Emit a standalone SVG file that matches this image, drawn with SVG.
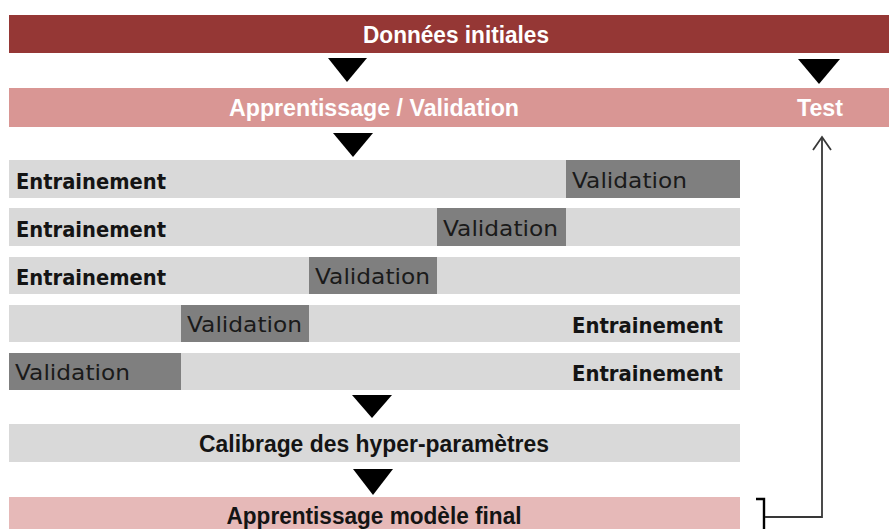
<svg xmlns="http://www.w3.org/2000/svg" width="889" height="529" viewBox="0 0 889 529">
  <style>
    .head { font-family: "Liberation Sans", Arial, sans-serif; font-weight: bold; font-size: 23px; text-anchor: middle; }
    .light { fill: #ffffff; }
    .dark { fill: #141414; }
    .train { font-family: "DejaVu Sans", Verdana, sans-serif; font-weight: bold; font-size: 20.5px; fill: #141414; }
    .val { font-family: "DejaVu Sans", Verdana, sans-serif; font-size: 22px; fill: #1a1a1a; }
    .bg { fill: #d9d9d9; }
    .vb { fill: #7f7f7f; }
    .tri { fill: #000000; }
    .link { fill: none; stroke: #383838; stroke-width: 1.8; }
  </style>

  <!-- source data -->
  <g id="donnees">
    <rect x="9" y="15" width="880" height="38" fill="#953735"/>
    <text class="head light" x="456" y="43" textLength="186" lengthAdjust="spacingAndGlyphs">Données initiales</text>
  </g>

  <!-- split: learning / validation and test -->
  <g id="apprentissage">
    <rect x="9" y="88" width="880" height="39" fill="#d99694"/>
    <text class="head light" x="374" y="116" textLength="290" lengthAdjust="spacingAndGlyphs">Apprentissage / Validation</text>
  </g>
  <g id="test">
    <text class="head light" x="820" y="116" textLength="46" lengthAdjust="spacingAndGlyphs">Test</text>
  </g>

  <!-- five cross-validation folds -->
  <g id="fold1">
    <rect class="bg" x="9" y="160" width="731" height="38"/>
    <rect class="vb" x="566" y="160" width="174" height="38"/>
    <text class="train" x="16" y="189" textLength="150" lengthAdjust="spacingAndGlyphs">Entrainement</text>
    <text class="val" x="572" y="188" textLength="115" lengthAdjust="spacingAndGlyphs">Validation</text>
  </g>
  <g id="fold2">
    <rect class="bg" x="9" y="208" width="731" height="38"/>
    <rect class="vb" x="437" y="208" width="129" height="38"/>
    <text class="train" x="16" y="237" textLength="150" lengthAdjust="spacingAndGlyphs">Entrainement</text>
    <text class="val" x="443" y="236" textLength="115" lengthAdjust="spacingAndGlyphs">Validation</text>
  </g>
  <g id="fold3">
    <rect class="bg" x="9" y="257" width="731" height="37"/>
    <rect class="vb" x="309" y="257" width="128" height="37"/>
    <text class="train" x="16" y="285" textLength="150" lengthAdjust="spacingAndGlyphs">Entrainement</text>
    <text class="val" x="315" y="284" textLength="115" lengthAdjust="spacingAndGlyphs">Validation</text>
  </g>
  <g id="fold4">
    <rect class="bg" x="9" y="305" width="731" height="37"/>
    <rect class="vb" x="181" y="305" width="128" height="37"/>
    <text class="val" x="187" y="332" textLength="115" lengthAdjust="spacingAndGlyphs">Validation</text>
    <text class="train" x="572" y="333" textLength="151" lengthAdjust="spacingAndGlyphs">Entrainement</text>
  </g>
  <g id="fold5">
    <rect class="bg" x="9" y="353" width="731" height="37"/>
    <rect class="vb" x="9" y="353" width="172" height="37"/>
    <text class="val" x="15" y="380" textLength="115" lengthAdjust="spacingAndGlyphs">Validation</text>
    <text class="train" x="572" y="381" textLength="151" lengthAdjust="spacingAndGlyphs">Entrainement</text>
  </g>

  <!-- hyper-parameter tuning -->
  <g id="calibrage">
    <rect class="bg" x="9" y="424" width="731" height="38"/>
    <text class="head dark" x="374" y="452" textLength="350" lengthAdjust="spacingAndGlyphs">Calibrage des hyper-paramètres</text>
  </g>

  <!-- final model training -->
  <g id="final">
    <rect x="9" y="497" width="731" height="40" fill="#e6b9b8"/>
    <text class="head dark" x="374" y="524" textLength="295" lengthAdjust="spacingAndGlyphs">Apprentissage modèle final</text>
  </g>

  <!-- connectors -->
  <g id="connectors">
    <polygon class="tri" points="328,58 367,58 347,82"/>
    <polygon class="tri" points="798,59 840,59 819,84"/>
    <polygon class="tri" points="333,133 373,133 353,157"/>
    <polygon class="tri" points="352,395 392,395 372,418"/>
    <polygon class="tri" points="353,469 393,469 373,495"/>
    <!-- bracket beside final model, feeding the test set -->
    <polyline points="756,499 764,499 764,529" fill="none" stroke="#000" stroke-width="2.4"/>
    <polyline class="link" points="765,517 822,517 822,137"/>
    <polyline class="link" points="813,150 822,137 831,150"/>
  </g>
</svg>
